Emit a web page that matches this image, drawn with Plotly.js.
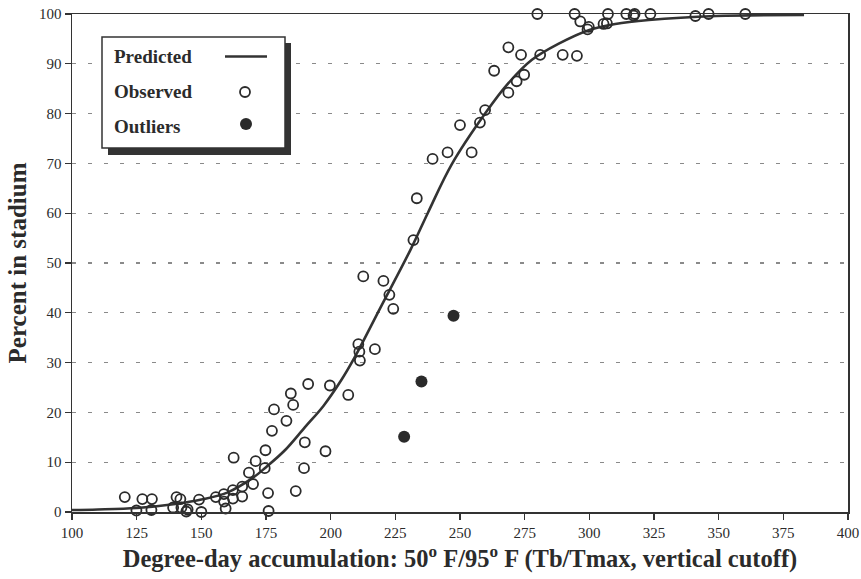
<!DOCTYPE html>
<html>
<head>
<meta charset="utf-8">
<script src="https://cdn.plot.ly/plotly-3.0.1.min.js"></script>
<style>
  html, body { margin: 0; padding: 0; background: #ffffff; }
  #chart { width: 861px; height: 579px; }
</style>
</head>
<body>
<div id="chart"></div>
<script>
// Predicted curve
const predX = [100,110,125,140,150,160,170,175,182.3,190,197.2,204,209.1,219.2,230.8,237.7,246.8,259.7,268.7,277.8,288,300,310,323,349,383];
const predY = [0.4,0.5,0.8,1.6,2.5,3.9,6.9,9.0,12.4,17.0,21.3,26.4,30.9,41.0,52.6,60.2,69.8,80,86.1,90.8,94,96.8,98,98.8,99.6,99.8];

// Observed points
const obsX = [120.4,124.9,127.2,130.9,130.7,139.1,140.4,141.9,142.3,144.2,
              144.7,149.1,150.0,155.6,158.7,158.8,159.4,162.2,162.2,162.5,
              165.8,165.8,168.4,170.0,171.0,174.5,174.8,175.8,176.0,177.3,
              178.1,182.9,184.6,185.5,186.5,189.7,190.0,191.3,198.0,199.7,
              206.8,210.7,211.1,211.3,212.6,217.1,220.4,222.7,224.2,232.0,
              233.3,239.4,245.2,250.0,254.5,257.7,259.7,263.2,268.7,268.7,
              271.9,273.6,274.8,279.9,281.0,289.7,294.3,295.2,296.5,299.3,
              299.8,305.5,306.8,307.2,314.3,317.1,317.5,323.6,341.0,346.1,
              360.3];
const obsY = [3,0.3,2.6,2.6,0.4,0.9,3,2.6,0.9,0.1,
              0.5,2.5,0,3,3.6,2.1,0.7,4.4,2.7,10.9,
              5.1,3.1,7.9,5.6,10.2,8.8,12.4,3.8,0.2,16.3,
              20.6,18.3,23.8,21.5,4.2,8.8,14,25.7,12.2,25.4,
              23.5,33.7,32.2,30.4,47.3,32.7,46.4,43.6,40.8,54.6,
              63,70.9,72.2,77.7,72.2,78.2,80.7,88.6,84.2,93.3,
              86.5,91.8,87.8,100,91.8,91.8,100,91.6,98.5,96.9,
              97.4,98,98.1,100,100,99.7,100,100,99.6,100,
              100];

// Outliers
const outX = [228.4,235.1,247.5];
const outY = [15.1,26.2,39.4];

// Tick labels
const xTicks = [100,125,150,175,200,225,250,275,300,325,350,375,400];
const yTicks = [0,10,20,30,40,50,60,70,80,90,100];

const legendNames = ['Predicted','Observed','Outliers'];

const ink = '#2b2b2b';
const serif = 'Liberation Serif, Times New Roman, serif';

const traces = [
  {
    x: predX, y: predY, type: 'scatter', mode: 'lines', name: legendNames[0],
    line: {color: '#333333', width: 2.6, shape: 'spline', smoothing: 1.0},
    cliponaxis: false, showlegend: false, hoverinfo: 'skip'
  },
  {
    x: obsX, y: obsY, type: 'scatter', mode: 'markers', name: legendNames[1],
    marker: {symbol: 'circle-open', size: 10, color: ink, line: {width: 1.8, color: ink}},
    cliponaxis: false, showlegend: false
  },
  {
    x: outX, y: outY, type: 'scatter', mode: 'markers', name: legendNames[2],
    marker: {symbol: 'circle', size: 12, color: '#2a2a2a'},
    cliponaxis: false, showlegend: false
  }
];

// plot area in pixels: x 72..848, y 14..512
const L = 72, R = 848, T = 14, B = 512;
const W = R - L, H = B - T;
const px = v => (v - L) / W;
const py = v => (B - v) / H;

const shapes = [
  // legend shadow
  {type: 'rect', xref: 'paper', yref: 'paper', layer: 'above',
   x0: px(108), x1: px(291), y0: py(155), y1: py(43),
   fillcolor: '#333333', line: {width: 0}},
  // legend box
  {type: 'rect', xref: 'paper', yref: 'paper', layer: 'above',
   x0: px(102), x1: px(285), y0: py(148), y1: py(37),
   fillcolor: '#ffffff', line: {width: 1.5, color: '#333333'}},
  // legend line sample
  {type: 'line', xref: 'paper', yref: 'paper', layer: 'above',
   x0: px(225), x1: px(267), y0: py(56.5), y1: py(56.5),
   line: {width: 2.6, color: '#333333'}},
  // legend open circle
  {type: 'circle', xref: 'paper', yref: 'paper', layer: 'above',
   xsizemode: 'pixel', ysizemode: 'pixel', xanchor: px(245), yanchor: py(92),
   x0: -5, x1: 5, y0: -5, y1: 5,
   fillcolor: 'rgba(0,0,0,0)', line: {width: 1.8, color: ink}},
  // legend filled circle
  {type: 'circle', xref: 'paper', yref: 'paper', layer: 'above',
   xsizemode: 'pixel', ysizemode: 'pixel', xanchor: px(246), yanchor: py(124),
   x0: -6, x1: 6, y0: -6, y1: 6,
   fillcolor: '#2a2a2a', line: {width: 0}}
];

const annotations = legendNames.map((n, i) => ({
  text: '<b>' + n + '</b>', xref: 'paper', yref: 'paper',
  x: px(112), y: py([56, 92, 126][i]), xanchor: 'left', yanchor: 'middle',
  showarrow: false, font: {family: serif, size: 19, color: '#2b2b2b'}
}));

const layout = {
  width: 861, height: 579,
  margin: {l: L, r: 861 - R, t: T, b: 579 - B, pad: 0},
  paper_bgcolor: '#ffffff', plot_bgcolor: '#ffffff',
  showlegend: false,
  xaxis: {
    range: [100, 400], tickmode: 'array', tickvals: xTicks, ticktext: xTicks.map(String),
    showgrid: false, zeroline: false,
    showline: true, linecolor: '#333333', linewidth: 1.5, mirror: true,
    ticks: 'outside', ticklen: 6, tickwidth: 1.2, tickcolor: '#333333',
    tickfont: {family: serif, size: 15, color: '#2b2b2b'},
    title: {text: '<b>Degree-day accumulation: 50<sup>o</sup> F/95<sup>o</sup> F (Tb/Tmax, vertical cutoff)</b>',
            font: {family: serif, size: 24.5, color: '#2b2b2b'}, standoff: 10},
    automargin: false, fixedrange: true
  },
  yaxis: {
    range: [0, 100], tickmode: 'array', tickvals: yTicks, ticktext: yTicks.map(String),
    showgrid: true, gridcolor: '#8a8a8a', gridwidth: 1.3, griddash: '4px,12px',
    zeroline: false,
    showline: true, linecolor: '#333333', linewidth: 1.5, mirror: true,
    ticks: 'outside', ticklen: 6, tickwidth: 1.2, tickcolor: '#333333',
    tickfont: {family: serif, size: 15, color: '#2b2b2b'},
    title: {text: '<b>Percent in stadium</b>',
            font: {family: serif, size: 25, color: '#2b2b2b'}, standoff: 5},
    automargin: false, fixedrange: true
  },
  shapes: shapes,
  annotations: annotations
};

Plotly.newPlot('chart', traces, layout, {staticPlot: true, displayModeBar: false});
</script>
</body>
</html>
